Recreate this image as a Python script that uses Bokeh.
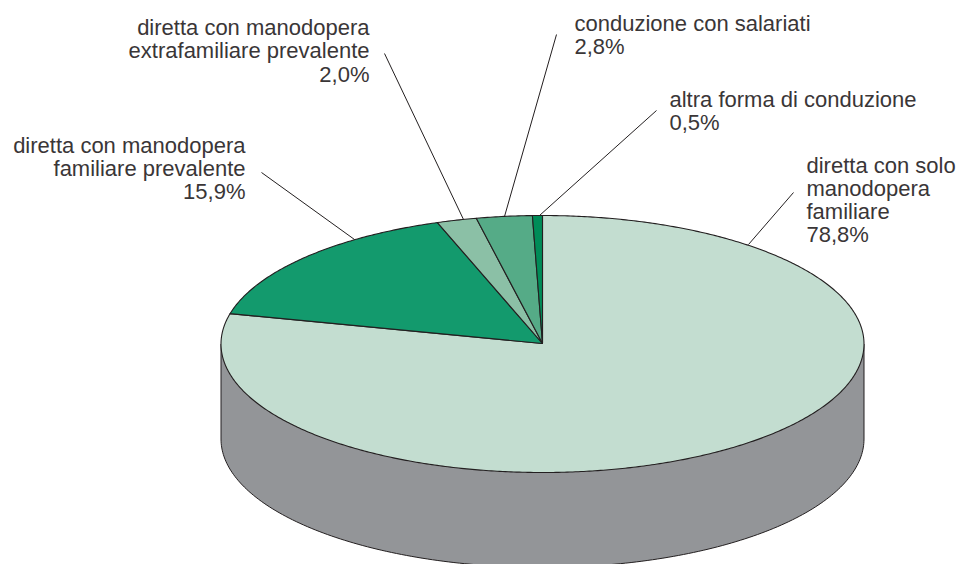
import math
from bokeh.plotting import figure
from bokeh.models import Range1d
from bokeh.core.properties import value
from bokeh.embed import file_html
from bokeh.resources import INLINE

categories = ["diretta con solo manodopera familiare",
              "diretta con manodopera familiare prevalente",
              "diretta con manodopera extrafamiliare prevalente",
              "conduzione con salariati",
              "altra forma di conduzione"]
shares = [78.8, 15.9, 2.0, 2.8, 0.5]
colors = ["#c3ddd0", "#139a6d", "#8bc0a6", "#55ab87", "#008c58"]

W, H = 963, 564
CX, CY, RX, RY, DEPTH = 542, 343.5, 321.5, 128.5, 95
DARK = "#231f20"
TEXT = "#3a3637"
FS = "22px"

p = figure(width=W, height=H, output_backend="svg", toolbar_location=None,
           x_range=Range1d(0, W), y_range=Range1d(H, 0),
           min_border=0, outline_line_color=None)
p.axis.visible = False
p.grid.visible = False
p.background_fill_color = "white"
p.border_fill_color = "white"

def pt(turn, cy=CY):
    a = 2 * math.pi * turn
    return CX + RX * math.sin(a), cy - RY * math.cos(a)

# side wall: left rim down, lower half of the base ellipse, right rim up
N = 180
wall = [pt(0.25 + 0.5 * i / N, CY + DEPTH) for i in range(N + 1)]
wx = [q[0] for q in wall] + [CX - RX, CX + RX]
wy = [q[1] for q in wall] + [CY, CY]
p.patch(wx, wy, fill_color="#939598", line_color=DARK, line_width=1)

# top face, clockwise from 12 o'clock
start = 0.0
total = sum(shares)
for share, col in zip(shares, colors):
    end = start + share / total
    n = max(4, int(720 * share / total))
    arc = [pt(start + (end - start) * i / n) for i in range(n + 1)]
    xs = [CX] + [q[0] for q in arc]
    ys = [CY - 0.5] + [q[1] for q in arc]
    p.patch(xs, ys, fill_color=col, line_color=DARK, line_width=1.1, line_join="round")
    start = end

# leader lines
leaders_x = [[384, 463], [556, 504], [656, 539], [261, 354], [793, 748]]
leaders_y = [[53, 219], [34, 216], [110, 215], [172, 239], [192, 244]]
p.multi_line(leaders_x, leaders_y, line_color=DARK, line_width=1)

# labels
blocks = [
    (369, "right", [27, 50, 74], ["diretta con manodopera", "extrafamiliare prevalente", "2,0%"]),
    (245, "right", [145, 168, 191], ["diretta con manodopera", "familiare prevalente", "15,9%"]),
    (574, "left", [23, 46], ["conduzione con salariati", "2,8%"]),
    (669, "left", [99, 122], ["altra forma di conduzione", "0,5%"]),
    (806, "left", [165, 188, 211, 234], ["diretta con solo", "manodopera", "familiare", "78,8%"]),
]
for x, align, ys, lines in blocks:
    p.text([x] * len(lines), ys, text=lines, text_align=align, text_baseline="alphabetic",
           text_font=value("Liberation Sans"), text_font_size=value(FS), text_color=TEXT)

open("out.html", "w").write(file_html(p, INLINE))
